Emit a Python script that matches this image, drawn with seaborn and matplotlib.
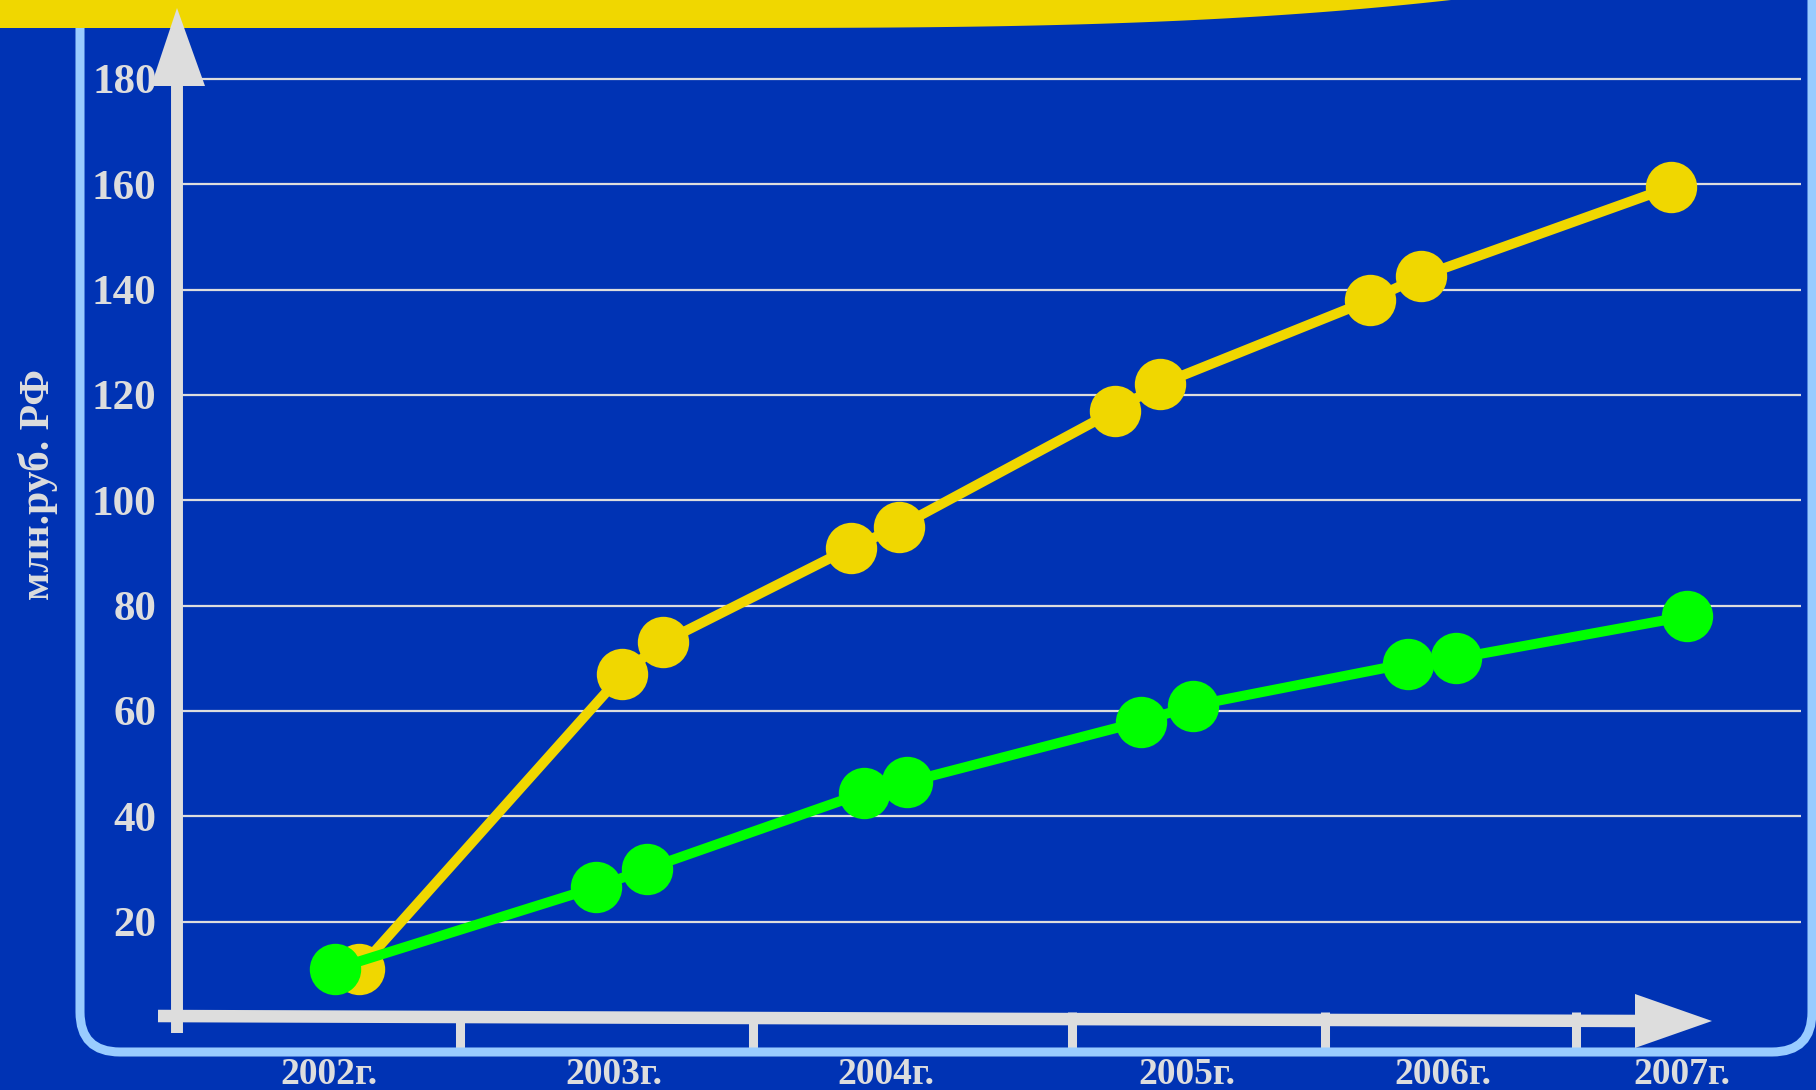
import numpy as np
import pandas as pd
import matplotlib
matplotlib.use("Agg")
import matplotlib.pyplot as plt
import seaborn as sns
from matplotlib.patches import FancyBboxPatch, Polygon
from matplotlib.lines import Line2D
import matplotlib.transforms as mtransforms

# ---------------- data ----------------
year_labels = ["2002г.", "2003г.", "2004г.", "2005г.", "2006г.", "2007г."]
year_label_pos = [2001.98, 2003.04, 2004.05, 2005.17, 2006.12, 2007.01]
year_marks = [2002.465, 2003.555, 2004.743, 2005.682, 2006.617]

yellow_x = [2002.09, 2003.07, 2003.22, 2003.92, 2004.10, 2004.90, 2005.07, 2005.85, 2006.04, 2006.97]
yellow_y = [11, 67, 73, 91, 95, 117, 122, 138, 142.5, 159.5]

green_x = [2002.00, 2002.97, 2003.16, 2003.97, 2004.13, 2005.00, 2005.19, 2005.99, 2006.17, 2007.03]
green_y = [11, 26.5, 30, 44.5, 46.5, 58, 61, 69, 70, 78]

y_ticks = [20, 40, 60, 80, 100, 120, 140, 160, 180]
y_title = "млн.руб. РФ"

# ---------------- style ----------------
BLUE = "#0033B4"
YELLOW = "#F0D700"
GREEN = "#00FF00"
FRAME = "#99CCFF"
GREY = "#DDDDDD"

sns.set_theme(style="white")
plt.rcParams["font.family"] = ["Liberation Serif", "DejaVu Serif"]
plt.rcParams["font.weight"] = "bold"

W, H = 1816, 1090
fig = plt.figure(figsize=(W / 100, H / 100), dpi=100, facecolor=BLUE)
px = mtransforms.Affine2D().scale(1 / W, -1 / H).translate(0, 1) + fig.transFigure

ax = fig.add_axes([176 / W, 0.0433, 1625 / W, 0.8988])
ax.set_facecolor("none")

df_y = pd.DataFrame({"x": yellow_x, "y": yellow_y})
df_g = pd.DataFrame({"x": green_x, "y": green_y})
sns.lineplot(data=df_y, x="x", y="y", ax=ax, color=YELLOW, lw=7.2, marker="o",
             markersize=37, markeredgewidth=0, sort=False, estimator=None)
sns.lineplot(data=df_g, x="x", y="y", ax=ax, color=GREEN, lw=7.2, marker="o",
             markersize=37, markeredgewidth=0, sort=False, estimator=None)

ax.set_xlim(2001.4098, 2007.4529)
ax.set_ylim(-3, 183)
ax.set_xlabel("")
ax.set_ylabel("")
for s in ax.spines.values():
    s.set_visible(False)

ax.set_yticks(y_ticks)
ax.set_yticklabels([str(v) for v in y_ticks])
ax.tick_params(axis="y", length=0, pad=14, labelsize=31, labelcolor=GREY)
ax.yaxis.grid(True, color=GREY, lw=1.6)
ax.xaxis.grid(False)

ax.set_xticks(year_label_pos)
ax.set_xticklabels(year_labels)
ax.tick_params(axis="x", which="major", length=0, pad=10.5, labelsize=27, labelcolor=GREY)

# small marks under the horizontal axis
ax.vlines(year_marks, 1012, 1050,
          transform=mtransforms.blended_transform_factory(ax.transData, px),
          colors=GREY, lw=6.5, clip_on=False)

# ---------------- decorations ----------------
frame = FancyBboxPatch((80, -80), 1812 - 80, 1052 + 80,
                       boxstyle="round,pad=0,rounding_size=40",
                       transform=px, fc="none", ec=FRAME, lw=6.5, zorder=1)
fig.add_artist(frame)

xs = np.linspace(0, 1451, 200)
ys = np.where(xs < 700, 28, 28 * (1 - ((xs - 700) / 751) ** 3))
band = Polygon([(0, -5)] + list(zip(xs, ys)) + [(1451, -5)], closed=True,
               transform=px, fc=YELLOW, ec="none", zorder=2)
fig.add_artist(band)

fig.add_artist(Line2D([177, 177], [1033, 84], transform=px, color=GREY,
                      lw=8.6, solid_capstyle="butt", zorder=3))
fig.add_artist(Polygon([(151, 86), (205, 86), (177, 8)], closed=True,
                       transform=px, fc=GREY, ec="none", zorder=3))
fig.add_artist(Line2D([158, 1640], [1016, 1021], transform=px, color=GREY,
                      lw=9, solid_capstyle="butt", zorder=3))
fig.add_artist(Polygon([(1635, 994), (1635, 1048), (1712, 1021)], closed=True,
                       transform=px, fc=GREY, ec="none", zorder=3))

fig.text(38, 485, y_title, transform=px, rotation=90, ha="center", va="center",
         fontsize=30, color=GREY, fontweight="bold")

fig.savefig("out.png", dpi=100, facecolor=BLUE)
